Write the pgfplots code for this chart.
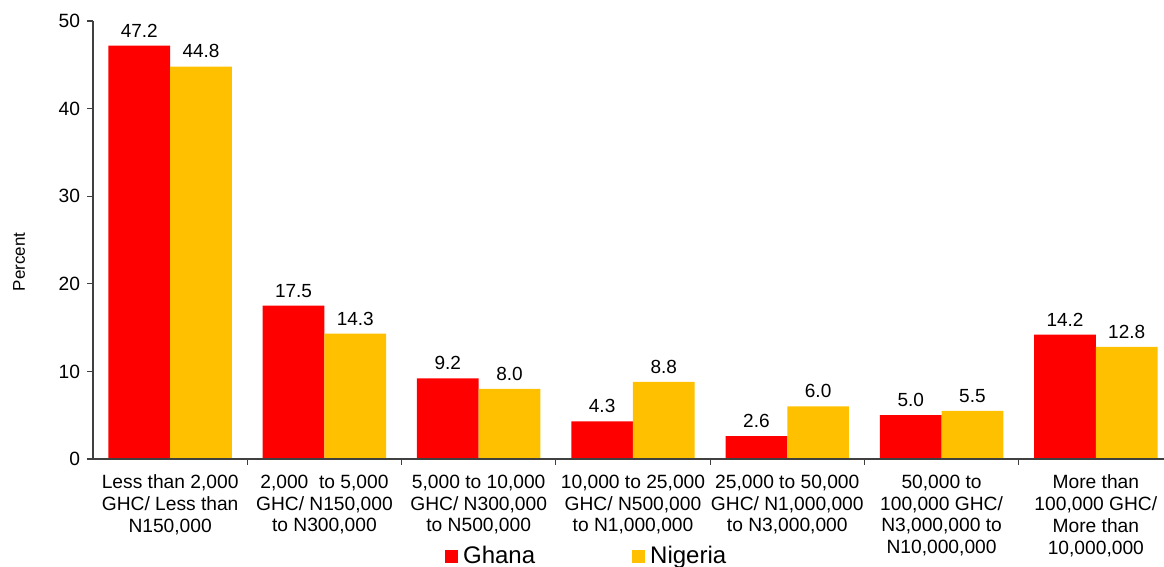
\documentclass[border=0pt]{standalone}
\usepackage{pgfplots}
\pgfplotsset{compat=1.18}
\usepackage{fontspec}
\setmainfont{Liberation Sans}
\definecolor{ghana}{HTML}{FF0000}
\definecolor{nigeria}{HTML}{FFC000}
\definecolor{axgray}{HTML}{404040}
\begin{document}
\begin{tikzpicture}
\path[use as bounding box] (-46.5pt,-54pt) rectangle (535.5pt,229.5pt);
\begin{axis}[
  at={(0,0)}, anchor=south west,
  scale only axis, width=540pt, height=219pt,
  ybar=0pt, bar width=0.4,
  xmin=-0.5, xmax=6.5, ymin=0, ymax=50,
  axis x line*=bottom, axis y line*=left,
  axis line style={axgray, line width=0.6pt},
  axis on top,
  tick align=outside,
  ytick={0,10,20,30,40,50},
  major tick length=3pt, minor tick length=3pt,
  ytick style={axgray, line width=0.6pt},
  xtick={0,1,2,3,4,5,6},
  major x tick style={draw=none},
  minor xtick={0.5,1.5,2.5,3.5,4.5,5.5},
  minor x tick style={axgray, line width=0.6pt},
  xticklabels={
    {Less than 2,000\\GHC/ Less than\\N150,000},
    {2,000 \ to 5,000\\GHC/ N150,000\\to N300,000},
    {5,000 to 10,000\\GHC/ N300,000\\to N500,000},
    {10,000 to 25,000\\GHC/ N500,000\\to N1,000,000},
    {25,000 to 50,000\\GHC/ N1,000,000\\to N3,000,000},
    {50,000 to\\100,000 GHC/\\N3,000,000 to\\N10,000,000},
    {More than\\100,000 GHC/\\More than\\10,000,000}},
  x tick label style={align=center, anchor=north, font=\fontsize{9.6}{10.85}\selectfont, yshift=-1.5pt},
  y tick label style={font=\fontsize{9.6}{11}\selectfont},
  /pgf/number format/assume math mode=true,
  ylabel={Percent},
  ylabel style={at={(axis description cs:-0.0685,0.45)}, anchor=center, font=\fontsize{8.5}{10}\selectfont},
  nodes near coords={\pgfmathprintnumber[fixed,fixed zerofill,precision=1,assume math mode=true]{\pgfplotspointmeta}},
  nodes near coords style={font=\fontsize{9.5}{11}\selectfont, black, inner sep=2pt, yshift=2pt},
  legend columns=2,
  legend style={draw=none, fill=none, at={(0.4585,-0.2215)}, anchor=center,
    font=\fontsize{12}{13}\selectfont, nodes={inner ysep=1.5pt, inner xsep=2.5pt},
    /tikz/every even column/.append style={column sep=46pt}},
  legend image code/.code={\fill[#1] (0pt,-3.25pt) rectangle (6.5pt,3.25pt);},
]
\addplot[fill=ghana, draw=none] coordinates {(0,47.2) (1,17.5) (2,9.2) (3,4.3) (4,2.6) (5,5.0) (6,14.2)};
\addplot[fill=nigeria, draw=none] coordinates {(0,44.8) (1,14.3) (2,8.0) (3,8.8) (4,6.0) (5,5.5) (6,12.8)};
\legend{Ghana,Nigeria}
\end{axis}
\end{tikzpicture}
\end{document}
